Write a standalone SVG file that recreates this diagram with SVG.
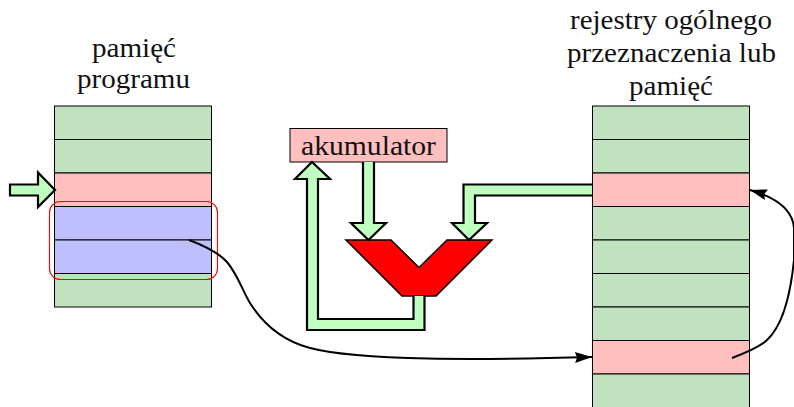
<svg xmlns="http://www.w3.org/2000/svg" width="794" height="407" viewBox="0 0 794 407">
<style>
text{font-family:"Liberation Serif","Times New Roman",serif;font-size:27px;fill:#111;text-anchor:middle}
.g{fill:#c0e2bf}.p{fill:#ffbfbf}.b{fill:#bfbfff}
.row rect{stroke:#000;stroke-width:1}
.bus{fill:#bfffbf;stroke:#000;stroke-width:2.2;stroke-miterlimit:10}
.curve{fill:none;stroke:#000;stroke-width:2}
</style>
<defs>
<marker id="ah" markerUnits="userSpaceOnUse" markerWidth="20" markerHeight="14" refX="17" refY="5.500" orient="auto" overflow="visible"><path d="M0 0L17 5.500L0 11L2 5.500Z" fill="#000"/></marker>
</defs>
<g id="program-memory" class="row">
<rect class="g" x="54.5" y="106" width="157" height="33.5"/>
<rect class="g" x="54.5" y="139.5" width="157" height="33.5"/>
<rect class="p" x="54.5" y="173" width="157" height="33.5"/>
<rect class="b" x="54.5" y="206.500" width="157" height="33.5"/>
<rect class="b" x="54.5" y="240" width="157" height="33.5"/>
<rect class="g" x="54.5" y="273.5" width="157" height="33.5"/>
<text x="134" y="57" textLength="84" lengthAdjust="spacingAndGlyphs">pamięć</text>
<text x="133.500" y="88" textLength="113" lengthAdjust="spacingAndGlyphs">programu</text>
</g>
<g id="registers" class="row">
<rect class="g" x="592.5" y="106" width="157" height="33.5"/>
<rect class="g" x="592.5" y="139.5" width="157" height="33.5"/>
<rect class="p" x="592.5" y="173" width="157" height="33.5"/>
<rect class="g" x="592.5" y="206.5" width="157" height="33.5"/>
<rect class="g" x="592.5" y="240" width="157" height="33.5"/>
<rect class="g" x="592.5" y="273.5" width="157" height="33.5"/>
<rect class="g" x="592.5" y="307" width="157" height="33.5"/>
<rect class="p" x="592.5" y="340.5" width="157" height="33.5"/>
<rect class="g" x="592.5" y="374" width="157" height="34"/>
<text x="671" y="29" textLength="202" lengthAdjust="spacingAndGlyphs">rejestry ogólnego</text>
<text x="671.500" y="62" textLength="209" lengthAdjust="spacingAndGlyphs">przeznaczenia lub</text>
<text x="671" y="95" textLength="84" lengthAdjust="spacingAndGlyphs">pamięć</text>
</g>
<g id="selection"><rect x="49.5" y="201.500" width="168" height="78" rx="11" fill="none" stroke="#f00" stroke-width="1.1"/></g>
<g id="accumulator"><rect class="p" x="290" y="128.5" width="157" height="33.5" stroke="#000" stroke-width="1"/><text x="368.500" y="155" textLength="135" lengthAdjust="spacingAndGlyphs">akumulator</text></g>
<g id="alu"><path d="M346 240H391L419 267.5L447 240H492L436 296H402Z" fill="#f00" stroke="#000" stroke-width="1.5"/></g>
<g id="connectors">
<path class="bus" d="M10 184.5H38V172.5L55 190L38 207V195.5H10Z"/>
<path class="bus" d="M363 162V223H351L368.500 240L386 223H374V162"/>
<path class="bus" d="M592 184.500H463.500V223H452L469 240L487 223H475V195.500H592"/>
<path class="bus" d="M413.500 296V319H318V179H330L312 162L295 179H307V330H424.500V296"/>
<path class="curve" d="M189 240C205 246 218 252 227 262C238 275 243 292 250 303C262 322 280 340 310 348C360 361 480 360 592 357" marker-end="url(#ah)"/>
<path class="curve" d="M732 358C748 352 760 347 767 340C782 326 790 300 794 260L794 228C793 215 785 200 750 190" marker-end="url(#ah)"/>
</g>
</svg>
